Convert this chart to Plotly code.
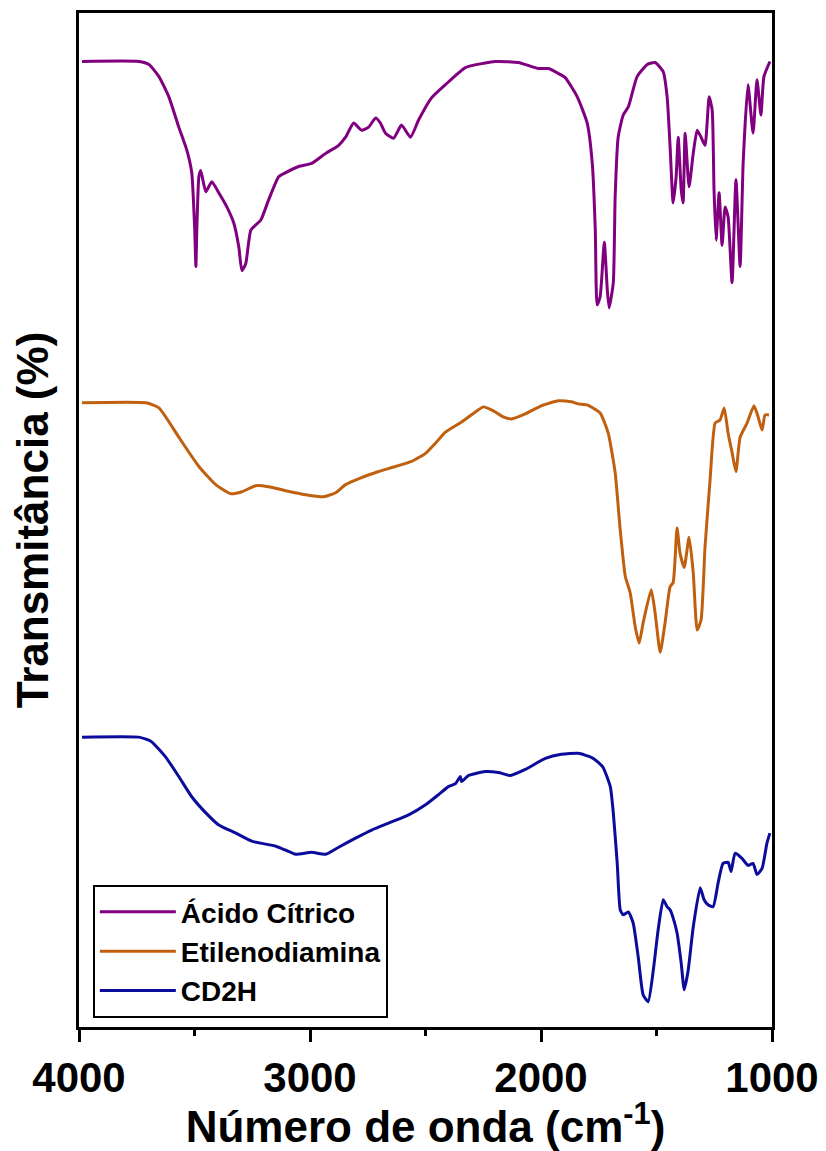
import plotly.graph_objects as go

# ---- Data (wavenumber in cm-1, stacked transmittance in arbitrary % units) ----
acido_wn = [3987, 3741, 3697, 3654, 3611, 3568, 3533, 3512, 3499, 3494, 3490, 3481, 3473, 3451, 3425,
            3395, 3360, 3330, 3308, 3295, 3278, 3256, 3213, 3179, 3135, 3105, 3049, 2993, 2932, 2876,
            2846, 2811, 2777, 2746, 2716, 2695, 2673, 2638, 2604, 2565, 2530, 2474, 2414, 2327, 2197,
            2098, 2012, 1968, 1916, 1895, 1843, 1800, 1778, 1765, 1757, 1744, 1726, 1713, 1705, 1687,
            1679, 1666, 1644, 1622, 1584, 1540, 1506, 1471, 1454, 1441, 1428, 1415, 1406, 1393, 1385,
            1376, 1359, 1341, 1324, 1307, 1290, 1272, 1259, 1251, 1242, 1229, 1216, 1203, 1190, 1173,
            1156, 1138, 1125, 1104, 1082, 1065, 1048, 1035, 1009]
acido_t = [95.1, 95.1, 94.8, 93.6, 91.6, 88.6, 86.3, 84.1, 78.4, 74.8, 78.4, 83.7, 84.3, 82.2, 83.2,
           82.1, 80.7, 79.1, 76.7, 74.4, 75.1, 78.4, 79.4, 81.4, 83.7, 84.1, 84.7, 85.0, 86.0, 86.8,
           87.6, 89.0, 88.3, 88.6, 89.5, 89.0, 88.0, 87.5, 88.8, 87.6, 89.3, 91.5, 92.8, 94.5, 95.1,
           95.0, 94.4, 94.4, 93.8, 93.5, 91.6, 89.0, 85.0, 78.4, 71.0, 71.8, 77.2, 72.5, 70.7, 73.2,
           81.7, 87.6, 89.8, 90.6, 93.6, 94.8, 95.0, 94.1, 91.6, 86.6, 81.1, 83.7, 87.6, 82.4, 81.1,
           88.0, 82.7, 86.0, 88.3, 87.6, 86.8, 91.6, 90.3, 82.4, 77.4, 82.1, 76.9, 80.7, 79.7, 73.2,
           83.4, 74.8, 85.0, 92.8, 88.0, 93.3, 89.8, 93.6, 95.1]

etileno_wn = [3987, 3710, 3654, 3568, 3481, 3408, 3343, 3295, 3235, 3179, 3105, 3019, 2941, 2889, 2846,
              2777, 2703, 2630, 2560, 2500, 2457, 2414, 2344, 2284, 2249, 2206, 2163, 2128, 2068, 1999,
              1925, 1869, 1839, 1800, 1744, 1709, 1679, 1657, 1635, 1614, 1592, 1575, 1558, 1523, 1506,
              1484, 1463, 1441, 1428, 1411, 1398, 1380, 1359, 1341, 1324, 1307, 1290, 1268, 1246, 1225,
              1207, 1190, 1173, 1156, 1138, 1108, 1078, 1060, 1043, 1030, 1013]
etileno_t = [61.3, 61.3, 60.8, 57.9, 55.0, 53.2, 52.3, 52.5, 53.1, 53.0, 52.6, 52.2, 52.0, 52.4, 53.2,
             53.9, 54.5, 55.0, 55.5, 56.3, 57.3, 58.4, 59.4, 60.4, 60.9, 60.5, 59.9, 59.7, 60.2, 61.0,
             61.5, 61.4, 61.2, 61.1, 60.3, 58.3, 54.4, 48.7, 44.1, 42.5, 39.1, 37.5, 39.5, 42.8, 40.5,
             36.6, 39.5, 43.1, 43.5, 48.9, 46.4, 45.0, 48.0, 44.5, 38.8, 39.8, 47.0, 53.7, 59.3, 59.6,
             60.8, 58.3, 56.4, 54.5, 57.9, 59.3, 61.0, 59.9, 58.6, 60.1, 60.1]

cd2h_wn = [3987, 3741, 3689, 3624, 3568, 3512, 3451, 3395, 3321, 3252, 3148, 3105, 3062, 2993, 2932,
           2876, 2803, 2733, 2647, 2573, 2500, 2444, 2401, 2370, 2349, 2344, 2314, 2241, 2184, 2133,
           2068, 1981, 1912, 1839, 1782, 1752, 1731, 1700, 1687, 1670, 1657, 1644, 1622, 1601, 1579,
           1558, 1536, 1514, 1493, 1471, 1454, 1441, 1428, 1411, 1393, 1380, 1363, 1341, 1311, 1294,
           1277, 1255, 1233, 1212, 1190, 1177, 1160, 1130, 1104, 1082, 1065, 1043, 1022, 1009]
cd2h_t = [28.2, 28.2, 27.8, 26.2, 24.3, 22.3, 20.7, 19.5, 18.7, 17.9, 17.4, 17.0, 16.6, 16.8, 16.6,
          17.3, 18.2, 19.0, 19.8, 20.5, 21.5, 22.5, 23.3, 23.6, 24.3, 23.8, 24.4, 24.8, 24.7, 24.4,
          25.0, 26.1, 26.5, 26.6, 26.2, 25.7, 25.2, 23.3, 20.7, 15.7, 11.1, 10.6, 10.9, 9.8, 6.4,
          2.7, 2.0, 5.1, 9.1, 12.1, 11.4, 11.1, 10.3, 8.8, 5.8, 3.2, 5.1, 9.4, 13.3, 12.1,
          11.6, 11.4, 13.8, 15.7, 15.8, 14.9, 16.7, 16.2, 15.5, 15.7, 14.6, 15.2, 17.7, 18.7]

series_names = ["Ácido Cítrico", "Etilenodiamina", "CD2H"]
series_colors = ["#800080", "#C0600F", "#0C0C9C"]
x_ticks = [4000, 3000, 2000, 1000]

FONT = "Liberation Sans, Arial, sans-serif"

fig = go.Figure()
for name, xs, ys, col in zip(series_names,
                             [acido_wn, etileno_wn, cd2h_wn],
                             [acido_t, etileno_t, cd2h_t],
                             series_colors):
    fig.add_trace(go.Scatter(x=xs, y=ys, mode="lines", name=name,
                             line=dict(color=col, width=3, shape="spline", smoothing=0.5)))

# the page body has an 8px margin, so the figure is made 8px smaller
fig.update_layout(
    width=818, height=1143,
    margin=dict(l=71, r=54, t=5, b=124, autoexpand=False),
    paper_bgcolor="white", plot_bgcolor="white",
    font=dict(family=FONT, color="black", weight="bold"),
    showlegend=True,
    legend=dict(x=0.02, y=0.14, xanchor="left", yanchor="top",
                bordercolor="black", borderwidth=2, bgcolor="white",
                font=dict(size=28, family=FONT, weight="bold", color="black"),
                tracegroupgap=0, itemwidth=76),
)
fig.update_xaxes(
    range=[4000, 1000], tickvals=x_ticks, ticktext=[str(v) for v in x_ticks],
    ticks="outside", ticklen=12, tickwidth=3, tickcolor="black",
    minor=dict(ticks="outside", ticklen=6, tickwidth=3, tickcolor="black", dtick=500, showgrid=False),
    showline=True, linewidth=3, linecolor="black", mirror=True,
    showgrid=False, zeroline=False, automargin=False,
    tickfont=dict(size=42, family=FONT, weight="bold", color="black"),
    title=dict(text="Número de onda (cm<sup>-1</sup>)", standoff=0,
               font=dict(size=44, family=FONT, weight="bold", color="black")),
)
fig.update_yaxes(
    range=[-0.5, 99.9], showticklabels=False, ticks="",
    showline=True, linewidth=3, linecolor="black", mirror=True,
    showgrid=False, zeroline=False, automargin=False,
    title=dict(text="Transmitância (%)",
               font=dict(size=44, family=FONT, weight="bold", color="black")),
)

fig.write_html("out.html")
